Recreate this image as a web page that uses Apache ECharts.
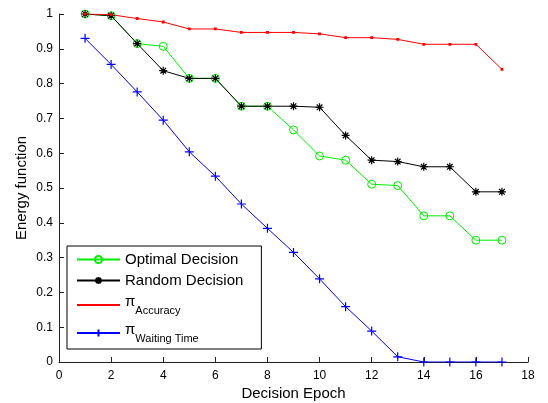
<!DOCTYPE html>
<html>
<head>
<meta charset="utf-8">
<script src="https://cdn.jsdelivr.net/npm/echarts@6/dist/echarts.min.js"></script>
<style>
  html, body { margin: 0; padding: 0; background: #fff; }
  #main { width: 548px; height: 403px; }
</style>
</head>
<body>
<div id="main"></div>
<script>
// decision epochs 1..17
var epochs = [1, 2, 3, 4, 5, 6, 7, 8, 9, 10, 11, 12, 13, 14, 15, 16, 17];
var optimal = [1.0, 0.995, 0.915, 0.907, 0.815, 0.815, 0.735, 0.735, 0.667, 0.592, 0.58, 0.511, 0.507, 0.42, 0.42, 0.35, 0.35];
var random = [1.0, 0.995, 0.915, 0.837, 0.815, 0.815, 0.735, 0.735, 0.735, 0.732, 0.651, 0.58, 0.576, 0.561, 0.561, 0.489, 0.489];
var accuracy = [1.0, 0.998, 0.987, 0.977, 0.957, 0.957, 0.947, 0.947, 0.947, 0.943, 0.932, 0.932, 0.927, 0.913, 0.913, 0.913, 0.841];
var waiting = [0.93, 0.855, 0.776, 0.695, 0.604, 0.534, 0.454, 0.384, 0.315, 0.239, 0.159, 0.089, 0.015, 0, 0, 0, 0];
var names = ['Optimal Decision', 'Random Decision', 'Accuracy', 'Waiting Time'];

function pairs(ys) {
  return epochs.map(function (x, i) { return [x, ys[i]]; });
}

// marker shapes (matlab style)
var starPath = 'path://M0,5L10,5M5,0L5,10M1.5,1.5L8.5,8.5M1.5,8.5L8.5,1.5';
var plusPath = 'path://M0,5L10,5M5,0L5,10';
var dotPath = 'path://M0,0L0.01,0M4,4L6,4L6,6L4,6ZM10,10L10.01,10';

var myChart = echarts.init(document.getElementById('main'));

var option = {
  animation: false,
  backgroundColor: '#fff',
  textStyle: { fontFamily: 'Liberation Sans, Arial, sans-serif' },
  grid: { left: 59, right: 20, top: 14, bottom: 41, containLabel: false, outerBoundsMode: 'none' },
  legend: {
    orient: 'vertical',
    left: 67,
    top: 246,
    padding: [6, 18, 5, 9],
    itemGap: 6,
    itemWidth: 43,
    itemHeight: 9,
    borderColor: '#000',
    borderWidth: 1,
    backgroundColor: '#fff',
    data: names,
    formatter: function (n) {
      if (n === 'Accuracy' || n === 'Waiting Time') {
        return '{p|π}{s|' + n + '}{h| }';
      }
      return n;
    },
    textStyle: {
      fontSize: 15,
      lineHeight: 15,
      color: '#000',
      rich: {
        p: { fontSize: 15, lineHeight: 15, verticalAlign: 'top', color: '#000' },
        s: { fontSize: 11, lineHeight: 11, verticalAlign: 'bottom', color: '#000' },
        h: { fontSize: 1, lineHeight: 22 }
      }
    }
  },
  xAxis: {
    type: 'value',
    min: 0, max: 18, interval: 2,
    name: 'Decision Epoch',
    nameLocation: 'middle',
    nameGap: 24,
    nameMoveOverlap: false,
    nameTextStyle: { fontSize: 15, color: '#000' },
    axisLine: { lineStyle: { color: '#222', width: 1 } },
    axisTick: { inside: true, length: 5, lineStyle: { color: '#222' } },
    axisLabel: { fontSize: 12, color: '#000', margin: 8 },
    splitLine: { show: false }
  },
  yAxis: {
    type: 'value',
    min: 0, max: 1, interval: 0.1,
    name: 'Energy function',
    nameLocation: 'middle',
    nameGap: 30,
    nameMoveOverlap: false,
    nameTextStyle: { fontSize: 15, color: '#000' },
    axisLine: { show: true, lineStyle: { color: '#222', width: 1 } },
    axisTick: { show: true, inside: true, length: 5, lineStyle: { color: '#222' } },
    axisLabel: { fontSize: 12, color: '#000', margin: 6 },
    splitLine: { show: false }
  },
  series: [
    {
      name: 'Optimal Decision', type: 'line', data: pairs(optimal),
      symbol: 'circle', symbolSize: 8,
      lineStyle: { color: '#00ee00', width: 1 },
      itemStyle: { color: 'rgba(0,0,0,0)', borderColor: '#00ee00', borderWidth: 1 }
    },
    {
      name: 'Random Decision', type: 'line', data: pairs(random),
      symbol: starPath, symbolSize: 8,
      lineStyle: { color: '#000', width: 1 },
      itemStyle: { color: '#000', borderColor: '#000', borderWidth: 1.2 }
    },
    {
      name: 'Accuracy', type: 'line', data: pairs(accuracy),
      symbol: dotPath, symbolSize: 14,
      lineStyle: { color: '#ff0000', width: 1 },
      itemStyle: { color: '#ff0000', borderWidth: 0 }
    },
    {
      name: 'Waiting Time', type: 'line', data: pairs(waiting),
      symbol: plusPath, symbolSize: 9,
      lineStyle: { color: '#0000ff', width: 1 },
      itemStyle: { color: '#0000ff', borderColor: '#0000ff', borderWidth: 1.2 }
    }
  ]
};
myChart.setOption(option);
</script>
</body>
</html>
